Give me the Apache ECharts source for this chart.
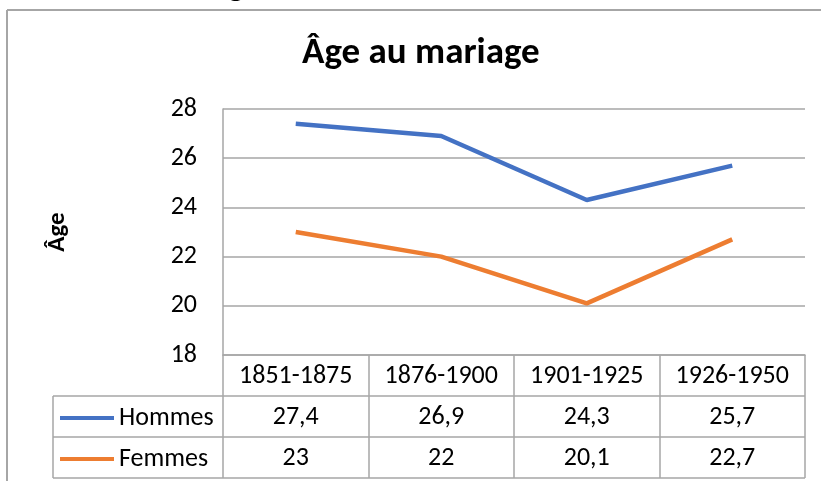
<!DOCTYPE html>
<html>
<head>
<meta charset="utf-8">
<script src="https://cdn.jsdelivr.net/npm/echarts@6/dist/echarts.min.js"></script>
<style>
  html, body { margin: 0; padding: 0; background: #fff; }
  #age-chart { width: 821px; height: 481px; }
</style>
</head>
<body>
<div id="age-chart"></div>
<script>
var periodes = ['1851-1875', '1876-1900', '1901-1925', '1926-1950']
var hommes = [27.4, 26.9, 24.3, 25.7]
var femmes = [23, 22, 20.1, 22.7]
var yTicks = [18, 20, 22, 24, 26, 28]

var police = 'Carlito, "Open Sans", "Noto Sans", sans-serif'
var gris = '#a6a6a6'
var noir = '#000'

// virgule décimale comme dans Excel
function virgule(v) {
  return String(v).replace('.', ',')
}

var chart = echarts.init(document.getElementById('age-chart'))

var option = {
  animation: false,
  backgroundColor: '#fff',
  title: {
    text: 'Âge au mariage',
    left: 302,
    top: 35,
    padding: 0,
    textStyle: { fontFamily: police, fontSize: 37, fontWeight: 'bold', color: noir }
  },
  legend: {
    orient: 'vertical',
    left: 55,
    top: 398,
    icon: 'rect',
    itemWidth: 54,
    itemHeight: 4,
    itemGap: 11,
    selectedMode: false,
    textStyle: { fontFamily: police, fontSize: 26, color: noir, lineHeight: 30 },
    data: ['Hommes', 'Femmes']
  },
  grid: { left: 223, right: 16, top: 109, bottom: 126, containLabel: false },
  xAxis: [
    {
      type: 'category',
      data: periodes,
      boundaryGap: true,
      axisLine: { show: true, lineStyle: { color: gris, width: 1.5 } },
      axisTick: { show: true, interval: 0, length: 123, lineStyle: { color: gris, width: 1.5 } },
      axisLabel: { interval: 0, margin: 8, fontFamily: police, fontSize: 26, color: noir }
    },
    {
      type: 'category',
      data: periodes,
      position: 'bottom',
      offset: 41,
      axisLine: { show: false },
      axisTick: { show: false },
      axisLabel: {
        interval: 0, margin: 8, fontFamily: police, fontSize: 26, color: noir,
        formatter: function (v, i) { return virgule(hommes[i]) }
      }
    },
    {
      type: 'category',
      data: periodes,
      position: 'bottom',
      offset: 82,
      axisLine: { show: false },
      axisTick: { show: false },
      axisLabel: {
        interval: 0, margin: 8, fontFamily: police, fontSize: 26, color: noir,
        formatter: function (v, i) { return virgule(femmes[i]) }
      }
    }
  ],
  yAxis: {
    type: 'value',
    min: yTicks[0],
    max: yTicks[yTicks.length - 1],
    interval: 2,
    name: 'Âge',
    nameLocation: 'middle',
    nameRotate: 90,
    nameGap: 153,
    nameTextStyle: { fontFamily: police, fontSize: 25, fontWeight: 'bold', color: noir },
    axisLine: { show: true, lineStyle: { color: gris, width: 1.5 } },
    axisTick: { show: false },
    axisLabel: { margin: 26, fontFamily: police, fontSize: 26, color: noir },
    splitLine: { lineStyle: { color: gris, width: 1.5 } }
  },
  series: [
    {
      name: 'Hommes',
      type: 'line',
      data: hommes,
      symbol: 'none',
      itemStyle: { color: '#4472c4' },
      lineStyle: { color: '#4472c4', width: 4.5 }
    },
    {
      name: 'Femmes',
      type: 'line',
      data: femmes,
      symbol: 'none',
      itemStyle: { color: '#ed7d31' },
      lineStyle: { color: '#ed7d31', width: 4.5 }
    }
  ],
  graphic: [
    // cadre de la zone graphique (coupé à droite et en bas)
    { type: 'line', shape: { x1: 7, y1: 10, x2: 821, y2: 10 }, style: { stroke: gris, lineWidth: 2 } },
    { type: 'line', shape: { x1: 7, y1: 10, x2: 7, y2: 481 }, style: { stroke: gris, lineWidth: 2 } },
    // lignes du tableau de données
    { type: 'line', shape: { x1: 53, y1: 396, x2: 805, y2: 396 }, style: { stroke: gris, lineWidth: 1.5 } },
    { type: 'line', shape: { x1: 53, y1: 437, x2: 805, y2: 437 }, style: { stroke: gris, lineWidth: 1.5 } },
    { type: 'line', shape: { x1: 53, y1: 478, x2: 805, y2: 478 }, style: { stroke: gris, lineWidth: 1.5 } },
    { type: 'line', shape: { x1: 53, y1: 396, x2: 53, y2: 478 }, style: { stroke: gris, lineWidth: 1.5 } },
    // reste du titre du document, coupé en haut
    {
      type: 'text', left: 228, top: -30,
      style: { text: 'g', fontFamily: police, fontSize: 34, fontWeight: 'bold', fill: noir }
    }
  ]
}

chart.setOption(option)
</script>
</body>
</html>
